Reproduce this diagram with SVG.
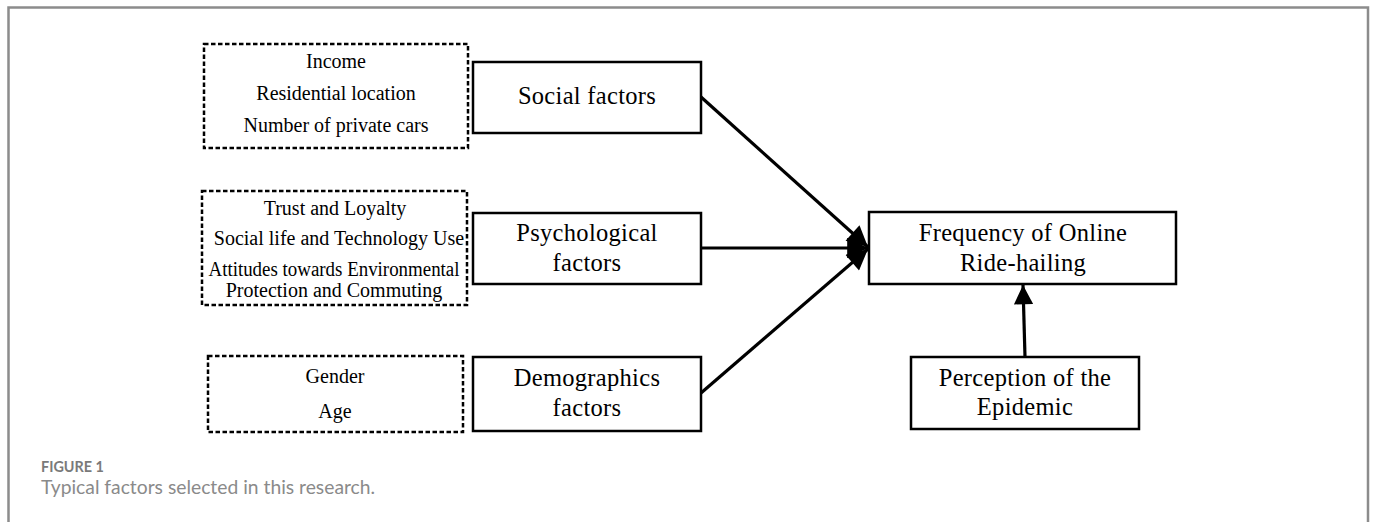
<svg xmlns="http://www.w3.org/2000/svg" width="1375" height="522" viewBox="0 0 1375 522">
<style>
.frame{fill:none;stroke:#8c8c8c;stroke-width:2.5}
.dash{fill:#fff;stroke:#000;stroke-width:2.5;stroke-dasharray:4.5 2.5}
.box{fill:#fff;stroke:#000;stroke-width:2.5}
.t{font-family:"Liberation Serif","Times New Roman",serif;fill:#000;text-anchor:middle}
.s{font-size:20px}
.m{font-size:24.5px;letter-spacing:0.3px}
.conn{fill:none;stroke:#000;stroke-width:3.2}
.cap1{font-family:Lato,"Open Sans",sans-serif;font-weight:bold;font-size:14.4px;fill:#7a7a7a}
.cap2{font-family:Lato,"Open Sans",sans-serif;font-size:19.3px;fill:#8a8a8a}
</style>
<defs>
<marker id="ah" viewBox="0 0 10 10" refX="10" refY="5" markerWidth="6.5" markerHeight="6" markerUnits="strokeWidth" orient="auto">
<path d="M0,0 L10,5 L0,10 z" fill="#000"/>
</marker>
<marker id="ah2" viewBox="0 0 10 10" refX="10" refY="5" markerWidth="7" markerHeight="6.5" markerUnits="strokeWidth" orient="auto">
<path d="M0,0 L10,5 L0,10 z" fill="#000"/>
</marker>
</defs>
<rect width="1375" height="522" fill="#fff"/>
<path class="frame" d="M8.5,522 L8.5,7.5 L1368,7.5 L1368,522"/>

<g id="social-items">
<rect class="dash" x="204" y="44" width="264" height="104"/>
<text class="t s" x="336" y="68">Income</text>
<text class="t s" x="336" y="100">Residential location</text>
<text class="t s" x="336" y="132">Number of private cars</text>
</g>
<g id="psych-items">
<rect class="dash" x="202" y="191" width="265" height="114"/>
<text class="t s" x="335" y="215">Trust and Loyalty</text>
<text class="t s" x="339" y="245">Social life and Technology Use</text>
<text class="t s" x="334" y="276" textLength="251" lengthAdjust="spacingAndGlyphs">Attitudes towards Environmental</text>
<text class="t s" x="334" y="297">Protection and Commuting</text>
</g>
<g id="demo-items">
<rect class="dash" x="208" y="356" width="255" height="76"/>
<text class="t s" x="335" y="383">Gender</text>
<text class="t s" x="335" y="418">Age</text>
</g>

<g id="social">
<rect class="box" x="473" y="62" width="228" height="71"/>
<text class="t m" x="587" y="104">Social factors</text>
</g>
<g id="psych">
<rect class="box" x="473" y="213" width="228" height="71"/>
<text class="t m" x="587" y="241">Psychological</text>
<text class="t m" x="587" y="271">factors</text>
</g>
<g id="demo">
<rect class="box" x="473" y="357" width="228" height="74"/>
<text class="t m" x="587" y="386">Demographics</text>
<text class="t m" x="587" y="416">factors</text>
</g>
<g id="freq">
<rect class="box" x="869" y="212" width="307" height="72"/>
<text class="t m" x="1023" y="241">Frequency of Online</text>
<text class="t m" x="1023" y="271">Ride-hailing</text>
</g>
<g id="perc">
<rect class="box" x="911" y="357" width="228" height="72"/>
<text class="t m" x="1025" y="386">Perception of the</text>
<text class="t m" x="1025" y="415">Epidemic</text>
</g>

<g id="connectors">
<line class="conn" x1="701" y1="97" x2="868" y2="247" marker-end="url(#ah2)"/>
<line class="conn" x1="701" y1="248" x2="868" y2="248" marker-end="url(#ah2)"/>
<line class="conn" x1="701" y1="393" x2="868" y2="249" marker-end="url(#ah2)"/>
<line class="conn" x1="1025" y1="357" x2="1023" y2="285" marker-end="url(#ah)"/>
</g>

<text class="cap1" x="41" y="472">FIGURE 1</text>
<text class="cap2" x="41" y="494">Typical factors selected in this research.</text>
</svg>
